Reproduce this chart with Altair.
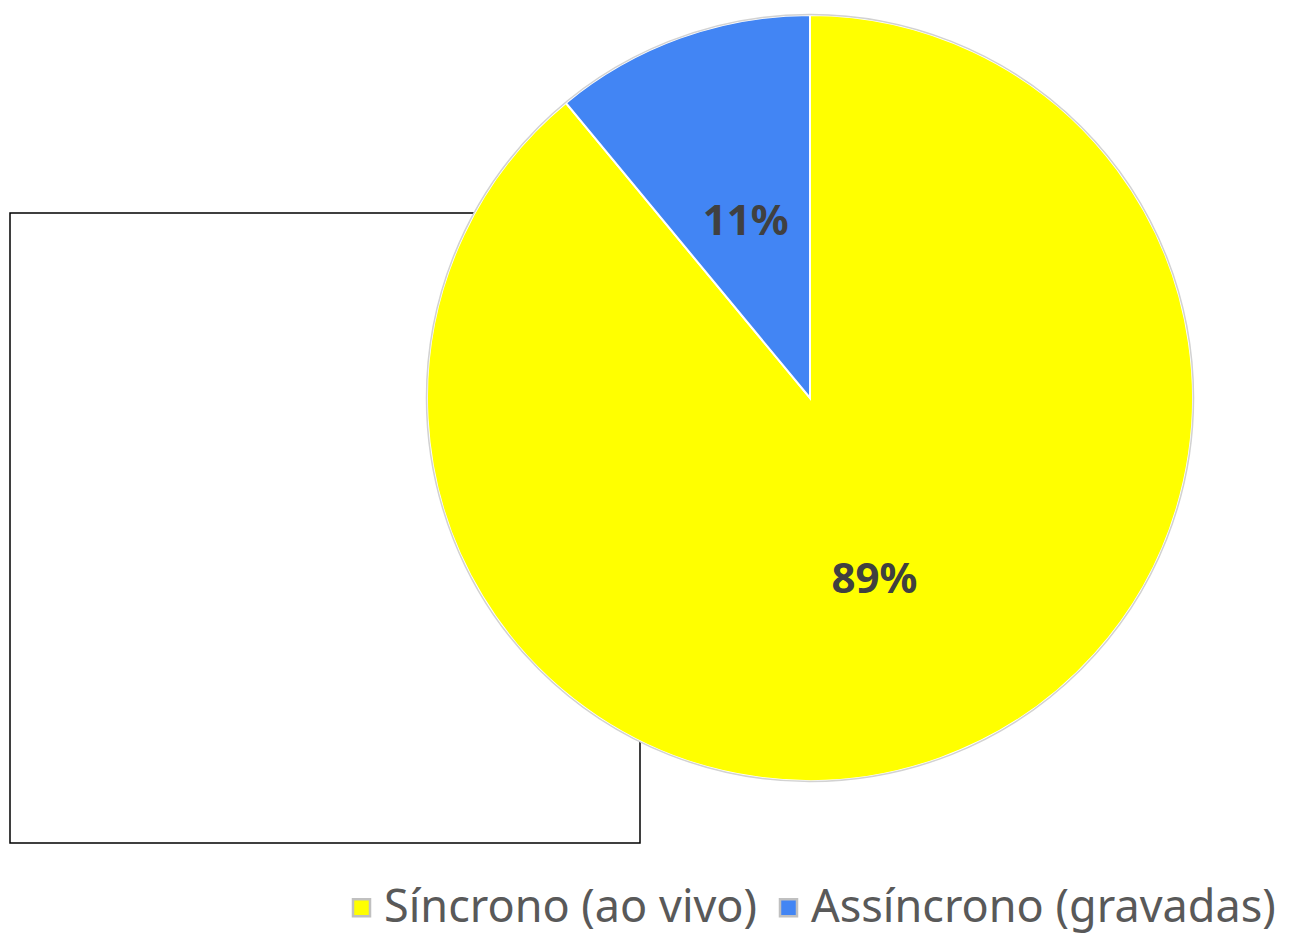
import altair as alt
import pandas as pd

categories = ["Síncrono (ao vivo)", "Assíncrono (gravadas)"]
values = [89, 11]
labels = ["89%", "11%"]
order_idx = [0, 1]
colors = ["#ffff00", "#4285f4"]

df = pd.DataFrame({"cat": categories, "value": values, "label": labels, "idx": order_idx})

CX, CY, R = 802, 390, 383

color_scale = alt.Scale(domain=categories, range=colors)

box = alt.Chart(pd.DataFrame({"a": [0]})).mark_rect(
    fill="white", stroke="black", strokeWidth=1.5
).encode(x=alt.value(2), x2=alt.value(632), y=alt.value(205), y2=alt.value(835))

base = alt.Chart(df).encode(
    theta=alt.Theta("value:Q", stack=True),
    order=alt.Order("idx:Q"),
)

arcs = base.mark_arc(outerRadius=R, stroke="white", strokeWidth=2).encode(
    x=alt.value(CX), y=alt.value(CY),
    color=alt.Color(
        "cat:N", scale=color_scale,
        legend=alt.Legend(
            title=None, orient="none", legendX=331, legendY=877,
            direction="horizontal", symbolType="square", symbolSize=289,
            symbolStrokeColor="#c0c0c0", symbolStrokeWidth=2.5,
            labelFontSize=45, labelColor="#595959",
            labelFont="Noto Sans",
            labelOffset=0, columnPadding=8, labelLimit=600,
        ),
    ),
)

outline = alt.Chart(pd.DataFrame({"a": [0]})).mark_point(
    shape="circle", filled=False, stroke="#bfbfbf", strokeWidth=1.5,
    size=(2 * (R + 0.5)) ** 2,
).encode(x=alt.value(CX), y=alt.value(CY))

text = base.mark_text(
    radius=190, fontSize=42, fontWeight="bold", color="#404040", font="Noto Sans"
).encode(x=alt.value(CX), y=alt.value(CY + 3), text="label:N")

chart = alt.layer(box, arcs, outline, text).properties(
    width=1282, height=928, autosize="none", padding=0
).configure_view(stroke=None)

chart.save("out.html", embed_options={"renderer": "svg", "actions": False})
